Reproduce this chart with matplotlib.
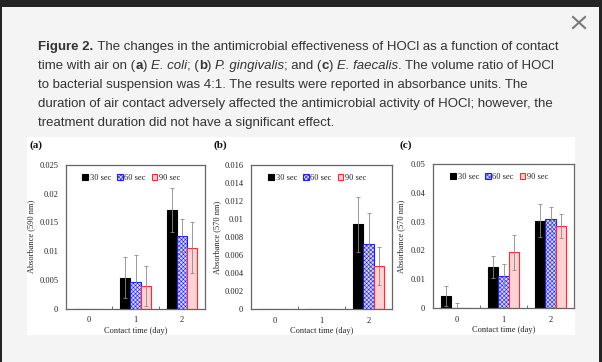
import numpy as np
import matplotlib
matplotlib.use("Agg")
import matplotlib.pyplot as plt
from matplotlib.patches import Rectangle
from matplotlib.lines import Line2D

plt.rcParams["hatch.linewidth"] = 0.4

#%% Data
days = [0, 1, 2]
series = ["30 sec", "60 sec", "90 sec"]

# (a) E. coli, 590 nm
ecoli_30 = [0.0, 0.0054, 0.0172]
ecoli_30_err = [0.0, 0.0036, 0.0038]
ecoli_60 = [0.0, 0.0046, 0.0127]
ecoli_60_err = [0.0, 0.0047, 0.0029]
ecoli_90 = [0.0, 0.0039, 0.0106]
ecoli_90_err = [0.0, 0.0035, 0.0044]

# (b) P. gingivalis, 570 nm
pg_30 = [0.0, 0.0, 0.0094]
pg_30_err = [0.0, 0.0, 0.0031]
pg_60 = [0.0, 0.0, 0.0072]
pg_60_err = [0.0, 0.0, 0.0035]
pg_90 = [0.0, 0.0, 0.0048]
pg_90_err = [0.0, 0.0, 0.0021]

# (c) E. faecalis, 570 nm
ef_30 = [0.0043, 0.0143, 0.0303]
ef_30_err = [0.0035, 0.0038, 0.0058]
ef_60 = [0.0001, 0.0112, 0.0308]
ef_60_err = [0.0016, 0.0042, 0.0044]
ef_90 = [0.0, 0.0194, 0.0285]
ef_90_err = [0.0, 0.0061, 0.0042]

caption_lines = [
    [("Figure 2.", "bold"), (" The changes in the antimicrobial effectiveness of HOCl as a function of contact", "normal")],
    [("time with air on (", "normal"), ("a", "bold"), (") ", "normal"), ("E. coli", "italic"),
     ("; (", "normal"), ("b", "bold"), (") ", "normal"), ("P. gingivalis", "italic"),
     ("; and (", "normal"), ("c", "bold"), (") ", "normal"), ("E. faecalis", "italic"),
     (". The volume ratio of HOCl", "normal")],
    [("to bacterial suspension was 4:1. The results were reported in absorbance units. The", "normal")],
    [("duration of air contact adversely affected the antimicrobial activity of HOCl; however, the", "normal")],
    [("treatment duration did not have a significant effect.", "normal")],
]

#%% Figure in pixel coordinates
W, H = 602, 362
fig = plt.figure(figsize=(W / 100, H / 100), dpi=100)
fig.patch.set_facecolor("#f4f4f4")

bg = fig.add_axes([0, 0, 1, 1])
bg.set_xlim(0, W)
bg.set_ylim(H, 0)
bg.axis("off")
bg.set_zorder(-1)

# dark page behind the popup
bg.add_patch(Rectangle((0, 0), W, 7, color="#242424", lw=0))
bg.add_patch(Rectangle((0, 0), 2, H, color="#242424", lw=0))
bg.add_patch(Rectangle((599, 0), 3, H, color="#242424", lw=0))
# white figure area
bg.add_patch(Rectangle((27, 137), 548, 198, color="white", lw=0))

# close icon
bg.add_line(Line2D([573, 585], [17, 28], color="#7a7a7a", lw=1.5))
bg.add_line(Line2D([573, 585], [28, 17], color="#7a7a7a", lw=1.5))

# caption with mixed styles
renderer = fig.canvas.get_renderer()
cap_font = "Liberation Sans"
cap_size = 9.5


def run_width(txt, weight, style):
    t1 = bg.text(0, 0, txt + "|", fontsize=cap_size, family=cap_font, fontweight=weight, fontstyle=style)
    t2 = bg.text(0, 0, "|", fontsize=cap_size, family=cap_font, fontweight=weight, fontstyle=style)
    w = t1.get_window_extent(renderer).width - t2.get_window_extent(renderer).width
    t1.remove()
    t2.remove()
    return w


y0 = 50
for i, line in enumerate(caption_lines):
    x = 38.5
    y = y0 + i * 19
    for txt, kind in line:
        weight = "bold" if kind == "bold" else "normal"
        style = "italic" if kind == "italic" else "normal"
        bg.text(x, y, txt, fontsize=cap_size, family=cap_font, fontweight=weight,
                fontstyle=style, color="#333333", va="baseline", ha="left")
        x += run_width(txt, weight, style)

#%% Panels
serif = "Liberation Serif"
fs = 6.0


def px_axes(left, top, right, bottom):
    return fig.add_axes([left / W, 1 - bottom / H, (right - left) / W, (bottom - top) / H])


def panel(rect, vals, errs, ymax, ystep, ylabel, tag, tagxy, ylab_x):
    ax = px_axes(*rect)
    x = np.arange(len(days))
    bw = 0.22
    styles = [
        dict(color="black", edgecolor="black"),
        dict(facecolor="#d4d4ff", edgecolor="#2020ee", hatch="xxxxxxxx"),
        dict(facecolor="#ffd3d3", edgecolor="#ff2a2a"),
    ]
    handles = []
    for k in range(3):
        b = ax.bar(x + (k - 1) * bw, vals[k], bw, linewidth=0.8, label=series[k], zorder=2, **styles[k])
        handles.append(b)
        e = np.array(errs[k])
        v = np.array(vals[k])
        m = e > 0
        ax.errorbar(x[m] + (k - 1) * bw, v[m], yerr=e[m], fmt="none", ecolor="#8a8a8a",
                    elinewidth=0.6, capsize=1.3, capthick=0.6, zorder=3)
    ax.set_xlim(-0.5, 2.5)
    ax.set_ylim(0, ymax)
    yt = np.arange(0, ymax + ystep / 2, ystep)
    ax.set_yticks(yt)
    ax.set_yticklabels([f"{v:g}" for v in np.round(yt, 4)])
    ax.set_xticks(x)
    ax.set_xticklabels([str(d) for d in days])
    ax.set_xticks([0.5, 1.5], minor=True)
    ax.tick_params(axis="x", which="major", length=0, pad=5.5)
    ax.tick_params(axis="x", which="minor", length=2.5, direction="in", width=0.6, color="#555555")
    ax.tick_params(axis="y", length=0, pad=5.5)
    for lab in ax.get_xticklabels() + ax.get_yticklabels():
        lab.set_fontfamily(serif)
        lab.set_fontsize(fs)
        lab.set_color("#222222")
    for s in ax.spines.values():
        s.set_color("#666666")
        s.set_linewidth(0.9)
    ax.set_xlabel("Contact time (day)", family=serif, fontsize=fs, labelpad=2, color="#222222")
    ax.set_ylabel(ylabel, family=serif, fontsize=fs, color="#222222")
    axw = rect[2] - rect[0]
    ax.yaxis.set_label_coords((ylab_x - rect[0]) / axw, 0.5)
    leg = ax.legend(handles=handles, loc="upper center", bbox_to_anchor=(0.47, 0.98), ncol=3,
                    frameon=False, prop=dict(family=serif, size=fs), handlelength=0.7,
                    handleheight=0.7, handletextpad=0.2, columnspacing=0.7, borderaxespad=0.3)
    for t in leg.get_texts():
        t.set_color("#222222")
    bg.text(tagxy[0], tagxy[1], tag, family=serif, fontsize=8, fontweight="bold",
            va="center", ha="left", color="#111111")
    return ax


panel((66, 165, 205, 308.5), [ecoli_30, ecoli_60, ecoli_90], [ecoli_30_err, ecoli_60_err, ecoli_90_err],
      0.025, 0.005, "Absorbance (590 nm)", "(a)", (30, 145), 35)
panel((251, 165, 392, 309), [pg_30, pg_60, pg_90], [pg_30_err, pg_60_err, pg_90_err],
      0.016, 0.002, "Absorbance (570 nm)", "(b)", (213, 145), 221)
panel((433, 164, 574, 308), [ef_30, ef_60, ef_90], [ef_30_err, ef_60_err, ef_90_err],
      0.05, 0.01, "Absorbance (570 nm)", "(c)", (400, 145), 405)

fig.savefig("out.png", dpi=100, facecolor=fig.get_facecolor())
